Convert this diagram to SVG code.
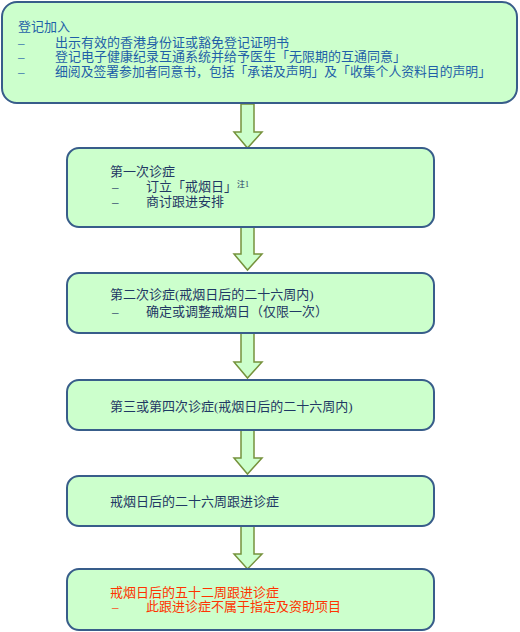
<svg xmlns="http://www.w3.org/2000/svg" width="520" height="632" viewBox="0 0 520 632">
<style>
.box{fill:#ccffcc;stroke:#385d8a;stroke-width:2}
.arr{fill:#ccffcc;stroke:#76923c;stroke-width:1.5;stroke-linejoin:miter}
text{font-family:"Liberation Serif","Noto Sans CJK SC",serif;font-size:13px}
.t1{fill:#1f5fa8}
.t2{fill:#1f3864}
.t3{fill:#ff3300}
.sup{font-size:8px}
</style>
<rect width="520" height="632" fill="#ffffff"/>
<g id="connectors">
<path class="arr" d="M241,104 L254,104 L254,132 L262,132 L247.5,148 L234,132 L241,132 Z"/>
<path class="arr" d="M241,227 L254,227 L254,254 L262,254 L247.5,270 L234,254 L241,254 Z"/>
<path class="arr" d="M241,333 L254,333 L254,362 L262,362 L247.5,378 L234,362 L241,362 Z"/>
<path class="arr" d="M241,430 L254,430 L254,458 L262,458 L247.5,474 L234,458 L241,458 Z"/>
<path class="arr" d="M241,526 L254,526 L254,554 L262,554 L247.5,569 L234,554 L241,554 Z"/>
</g>
<g id="node1">
<rect class="box" x="2" y="2" width="515" height="101" rx="15"/>
<text class="t1" x="18" y="31">登记加入</text>
<text class="t1" x="18" y="46.5">–</text>
<text class="t1" x="55" y="46.5">出示有效的香港身份证或豁免登记证明书</text>
<text class="t1" x="18" y="61">–</text>
<text class="t1" x="55" y="61">登记电子健康纪录互通系统并给予医生「无限期的互通同意」</text>
<text class="t1" x="18" y="75.5">–</text>
<text class="t1" x="55" y="75.5" textLength="436" lengthAdjust="spacingAndGlyphs">细阅及签署参加者同意书，包括「承诺及声明」及「收集个人资料目的声明」</text>
</g>
<g id="node2">
<rect class="box" x="67" y="148" width="367" height="79" rx="12"/>
<text class="t2" x="110" y="176">第一次诊症</text>
<text class="t2" x="112" y="191">–</text>
<text class="t2" x="146" y="191">订立「戒烟日」<tspan class="sup" x="237" y="187">注1</tspan></text>
<text class="t2" x="112" y="206">–</text>
<text class="t2" x="146" y="206">商讨跟进安排</text>
</g>
<g id="node3">
<rect class="box" x="67" y="273" width="367" height="60" rx="12"/>
<text class="t2" x="110" y="299">第二次诊症(戒烟日后的二十六周内)</text>
<text class="t2" x="112" y="316">–</text>
<text class="t2" x="146" y="316">确定或调整戒烟日（仅限一次）</text>
</g>
<g id="node4">
<rect class="box" x="67" y="380" width="367" height="50" rx="12"/>
<text class="t2" x="110" y="411">第三或第四次诊症(戒烟日后的二十六周内)</text>
</g>
<g id="node5">
<rect class="box" x="67" y="476" width="367" height="50" rx="12"/>
<text class="t2" x="110" y="506">戒烟日后的二十六周跟进诊症</text>
</g>
<g id="node6">
<rect class="box" x="67" y="569" width="367" height="61" rx="12"/>
<text class="t3" x="110" y="597">戒烟日后的五十二周跟进诊症</text>
<text class="t3" x="112" y="611">–</text>
<text class="t3" x="146" y="611">此跟进诊症不属于指定及资助项目</text>
</g>
</svg>
